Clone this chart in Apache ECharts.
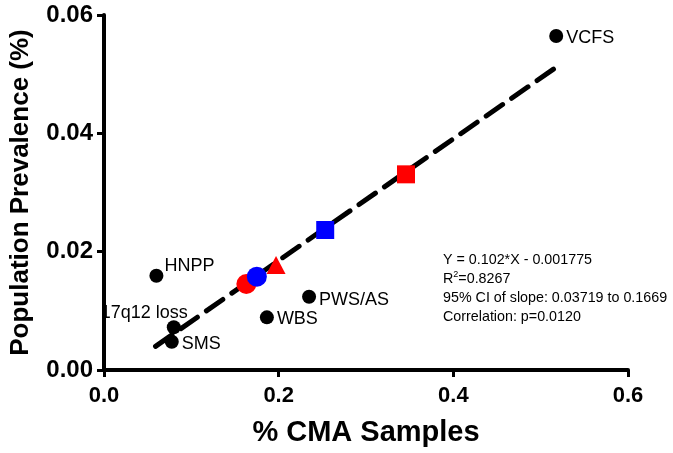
<!DOCTYPE html>
<html><head><meta charset="utf-8">
<script src="https://cdn.jsdelivr.net/npm/echarts@6/dist/echarts.min.js"></script>
<style>html,body{margin:0;padding:0;background:#fff}#c{width:673px;height:453px}</style>
</head><body><div id="c"></div>
<script>
// Named syndromes (black dots)
const names = ['VCFS', 'HNPP', '17q12 loss', 'SMS', 'WBS', 'PWS/AS'];
const namedX = [0.5178, 0.060, 0.0799, 0.0776, 0.1865, 0.2348];
const namedY = [0.05645, 0.01594, 0.00722, 0.00478, 0.0089, 0.01239];
// Coloured markers
const redCircle = [0.163, 0.01453];
const blueCircle = [0.175, 0.01577];
const redTriangle = [0.197, 0.01775];
const blueSquare = [0.2533, 0.02366];
const redSquare = [0.3458, 0.03307];
// Regression line end points
const fitX = [0.059, 0.517];
const fitY = [0.0040, 0.0511];
const xTicks = [0, 0.2, 0.4, 0.6];
const yTicks = [0, 0.02, 0.04, 0.06];
const statsLines = ['Y = 0.102*X - 0.001775', 'R{sup|2}=0.8267', '95% CI of slope: 0.03719 to 0.1669', 'Correlation: p=0.0120'];

const FONT = '"Liberation Sans", Arial, Helvetica, sans-serif';
const labelPos = {
  'VCFS': {position: 'right', offset: [0, 2]},
  'HNPP': {position: 'right', offset: [-2, -10]},
  '17q12 loss': {position: 'left', offset: [24, -14]},
  'SMS': {position: 'right', offset: [0, 2]},
  'WBS': {position: 'right', offset: [0, 2]},
  'PWS/AS': {position: 'right', offset: [0, 3]}
};
const namedData = names.map((n, i) => ({
  name: n, value: [namedX[i], namedY[i]],
  label: Object.assign({show: true, formatter: n, color: '#000', fontSize: 18, fontFamily: FONT, distance: 3}, labelPos[n])
}));

const chart = echarts.init(document.getElementById('c'));
const axisCommon = {
  axisLine: {show: true, onZero: false, lineStyle: {color: '#000', width: 4}},
  axisTick: {show: true, length: 7, lineStyle: {color: '#000', width: 3}},
  splitLine: {show: false},
  nameTextStyle: {color: '#000', fontWeight: 'bold', fontFamily: FONT},
  axisLabel: {color: '#000', fontWeight: 'bold', fontSize: 23, fontFamily: FONT}
};
chart.setOption({
  animation: false,
  backgroundColor: '#fff',
  grid: {left: 99, right: 45, top: 15, bottom: 83},
  xAxis: Object.assign({}, axisCommon, {
    type: 'value', min: 0, max: 0.6, interval: 0.2,
    name: '% CMA Samples', nameLocation: 'middle', nameGap: 48,
    nameTextStyle: Object.assign({}, axisCommon.nameTextStyle, {fontSize: 29}),
    axisLabel: Object.assign({}, axisCommon.axisLabel, {fontSize: 22, margin: 15, formatter: v => v.toFixed(1)})
  }),
  yAxis: Object.assign({}, axisCommon, {
    type: 'value', min: 0, max: 0.06, interval: 0.02,
    name: 'Population Prevalence (%)', nameLocation: 'middle', nameGap: 70,
    nameTextStyle: Object.assign({}, axisCommon.nameTextStyle, {fontSize: 26}),
    axisLabel: Object.assign({}, axisCommon.axisLabel, {fontSize: 24, margin: 11, formatter: v => v.toFixed(2)})
  }),
  series: [
    {type: 'line', data: [[fitX[0], fitY[0]], [fitX[1], fitY[1]]], showSymbol: false, symbol: 'none',
     lineStyle: {color: '#000', width: 5, type: [20, 11], cap: 'round'}, z: 1},
    {type: 'scatter', data: namedData, symbol: 'circle', symbolSize: 14, itemStyle: {color: '#000', opacity: 1}, z: 3},
    {type: 'scatter', data: [redCircle], symbol: 'circle', symbolSize: 20, itemStyle: {color: '#ff0000', opacity: 1}, z: 3},
    {type: 'scatter', data: [blueCircle], symbol: 'circle', symbolSize: 20, itemStyle: {color: '#0000ff', opacity: 1}, z: 4},
    {type: 'scatter', data: [redTriangle], symbol: 'triangle', symbolSize: [19, 18], itemStyle: {color: '#ff0000', opacity: 1}, z: 3},
    {type: 'scatter', data: [blueSquare], symbol: 'rect', symbolSize: 18, itemStyle: {color: '#0000ff', opacity: 1}, z: 3},
    {type: 'scatter', data: [redSquare], symbol: 'rect', symbolSize: 18, itemStyle: {color: '#ff0000', opacity: 1}, z: 3}
  ],
  graphic: [{
    type: 'text', left: 443, top: 251, z: 10,
    style: {
      text: statsLines.join('\n'), fill: '#000', font: '14.3px ' + FONT, lineHeight: 19,
      rich: {sup: {fontSize: 9, verticalAlign: 'top', padding: [0, 0, 8, 0], fill: '#000'}}
    }
  }]
});
</script></body></html>
